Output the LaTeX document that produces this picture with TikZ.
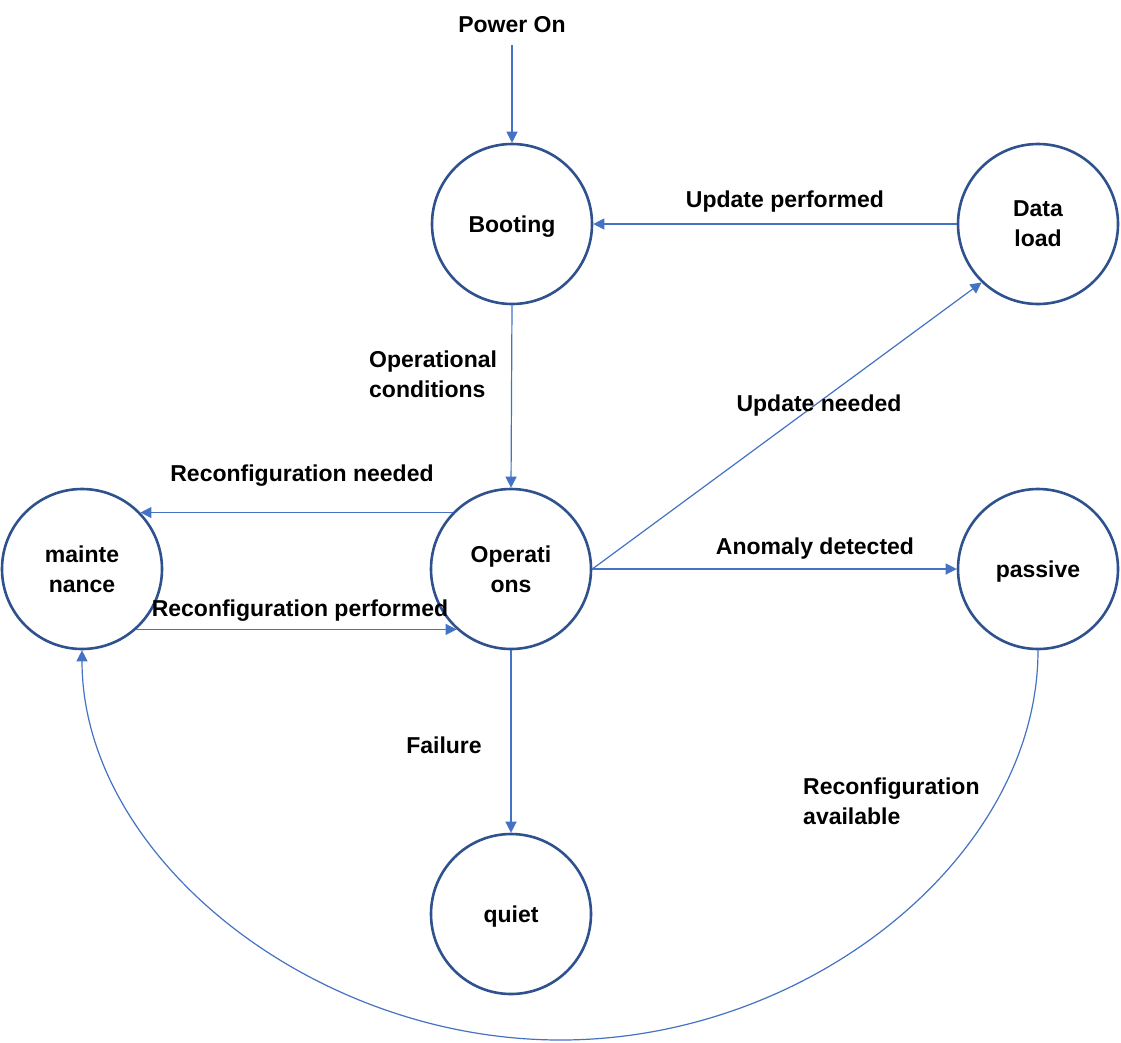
\documentclass[tikz,border=0pt]{standalone}
\usepackage{fontspec}
\setmainfont{Liberation Sans}
\usetikzlibrary{arrows.meta}
\definecolor{lineblue}{HTML}{4472C4}
\definecolor{ringblue}{HTML}{2F528F}
\begin{document}
\begin{tikzpicture}[x=1pt,y=-1pt,
  state/.style={circle,draw=ringblue,line width=2.6pt,fill=white,minimum size=160pt,inner sep=0pt,align=center,text depth=0pt,font=\fontsize{23}{30}\selectfont\bfseries},
  lbl/.style={font=\fontsize{23}{30}\selectfont\bfseries,inner sep=0pt,text depth=0pt},
  conn/.style={draw=lineblue,line width=1.2pt,-{Triangle[length=11pt,width=11pt]}}]
\useasboundingbox[fill=white] (0,0) rectangle (1121,1042);

% states
\node[state] (b) at (512,224) {Booting};
\node[state] (d) at (1038,224) {Data\\load};
\node[state] (o) at (511,569) {Operati\\ons};
\node[state] (m) at (82,569) {mainte\\nance};
\node[state] (p) at (1038,569) {passive};
\node[state] (q) at (511,914) {quiet};

% start label
\node[lbl] (pw) at (512,24) {Power On};

% connectors
\draw[conn,shorten <=13pt] (pw.south) -- (b.north);
\draw[conn] (d.west) -- (b.east);
\draw[conn] (b.south) -- (o.north);
\draw[conn] (o.136) -- (m.44);
\draw[conn] (m.-48) -- (o.228);
\draw[conn] (o.east) -- (d.226);
\draw[conn] (o.east) -- (p.west);
\draw[conn] (o.south) -- (q.north);
\coordinate (bot) at (560.5,1040);
\draw[conn] (p.south) .. controls +(0,205) and +(250,0) .. (bot) .. controls +(-250,0) and +(0,205) .. (m.south);

% labels
\node[lbl] (l1) at (785,199) {Update performed};
\node[lbl,anchor=west,align=left] (l2) at (369,374) {Operational\\conditions};
\node[lbl] (l3) at (302,473) {Reconfiguration needed};
\node[lbl] (l4) at (300,608) {Reconfiguration performed};
\node[lbl] (l5) at (819,403) {Update needed};
\node[lbl] (l6) at (815,546) {Anomaly detected};
\node[lbl] (l7) at (444,745) {Failure};
\node[lbl,anchor=west,align=left] (l8) at (803,801) {Reconfiguration\\available};
\end{tikzpicture}
\end{document}
